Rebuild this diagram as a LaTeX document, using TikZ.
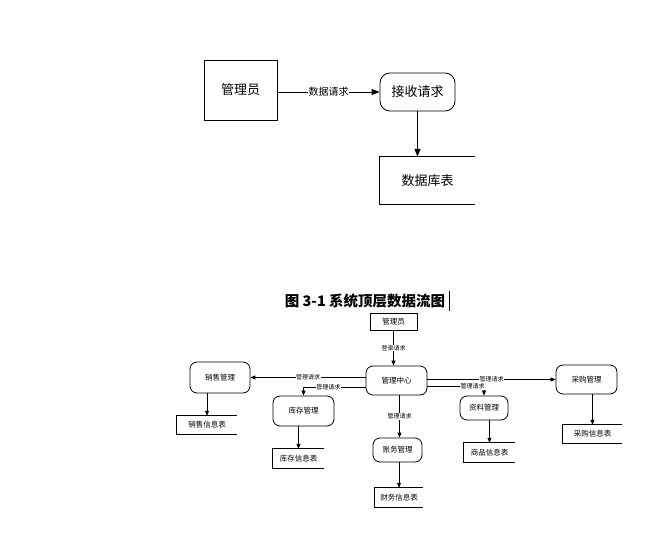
\documentclass[tikz,border=0pt]{standalone}
\usepackage{fontspec}
\newfontfamily\cjk{Noto Sans CJK SC}
\usetikzlibrary{arrows.meta,calc}
\tikzstyle{entity}=[rectangle,draw,line width=0.8pt,inner sep=0pt,font=\cjk]
\tikzstyle{process}=[rectangle,rounded corners=8pt,draw,line width=0.8pt,inner sep=0pt,font=\cjk]
\tikzstyle{store}=[rectangle,inner sep=0pt,font=\cjk]
\tikzstyle{flow}=[draw,line width=0.8pt,-{Triangle[length=8pt,width=6pt]}]
\tikzstyle{smallflow}=[draw,line width=0.7pt,-{Triangle[length=5pt,width=4pt]}]
\tikzstyle{weight}=[fill=white,inner sep=0.5pt,font=\cjk]

\begin{document}
\begin{tikzpicture}[x=1pt,y=-1pt]
    \useasboundingbox (0,0) rectangle (664,551);
    % top level: the administrator asks, the request is taken in
    \node[entity,minimum width=73pt,minimum height=60pt,font=\cjk\fontsize{13}{15}\selectfont] (admin) at (240.5,90) {管理员};
    \node[process,minimum width=75pt,minimum height=38pt,rounded corners=10pt,font=\cjk\fontsize{13}{15}\selectfont] (recv) at (417.5,92) {接收请求};
    \node[store,minimum width=95pt,minimum height=47pt,font=\cjk\fontsize{13}{15}\selectfont] (db) at (427.5,180.5) {数据库表};

    \path[flow] (admin.east |- recv.west) -- node[weight,font=\cjk\fontsize{10}{12}\selectfont] {数据请求} (recv.west);
    \path[flow] (recv.south) -- (recv.south |- db.north);

    % caption
    \node[font=\cjk\bfseries\fontsize{14.5}{16}\selectfont] (caption) at (365,301) {图 3-1 系统顶层数据流图};
    \draw[line width=1.2pt] (caption.east) ++(1,-10) -- ++(0,20);

    % second level
    \foreach \pos/\name/\txt/\w/\h in {{(393.5,321.5)/admin2/管理员/47/17}}
        \node[entity,minimum width=\w pt,minimum height=\h pt,font=\cjk\fontsize{7.5}{9}\selectfont] (\name) at \pos {\txt};

    \foreach \pos/\name/\txt/\w/\h in {{(396.5,380.5)/hub/管理中心/61/29}, {(220,377.5)/sales/销售管理/60/31},
        {(303.5,411)/stock/库存管理/61/30}, {(397.5,450)/acct/账务管理/49/24},
        {(484,408)/info/资料管理/48/24}, {(586.5,379.5)/buy/采购管理/61/29}}
        \node[process,minimum width=\w pt,minimum height=\h pt,rounded corners=7pt,font=\cjk\fontsize{7.5}{9}\selectfont] (\name) at \pos {\txt};

    \foreach \pos/\name/\txt/\w/\h in {{(207,425)/salest/销售信息表/60/18}, {(298.5,458.5)/stockt/库存信息表/51/19},
        {(399,497.5)/acctt/财务信息表/48/19}, {(489.5,452.5)/goodst/商品信息表/51/19},
        {(592.5,434)/buyt/采购信息表/59/18}}
        \node[store,minimum width=\w pt,minimum height=\h pt,font=\cjk\fontsize{7.5}{9}\selectfont] (\name) at \pos {\txt};

    % open data stores
    \foreach \name in {db,salest,stockt,acctt,goodst,buyt}
        \draw[line width=0.8pt] (\name.north east) -- (\name.north west) -- (\name.south west) -- (\name.south east);

    % requests from the centre
    \tikzset{weight/.append style={font=\cjk\fontsize{6}{7}\selectfont}}
    \path[smallflow] (admin2.south) -- node[weight] {登录请求} (admin2.south |- hub.north);
    \path[smallflow] (hub.west |- sales.east) -- node[weight] {管理请求} (sales.east);
    \path[smallflow] ([yshift=-7pt]hub.west) -| node[weight,pos=0.3] {管理请求} (stock.north);
    \path[smallflow] ([xshift=3pt]hub.south) -- node[weight] {管理请求} ([xshift=3pt]hub.south |- acct.north);
    \path[smallflow] (hub.east |- buy.west) -- node[weight] {管理请求} (buy.west);
    \path[smallflow] ([yshift=-6pt]hub.east) -| node[weight,pos=0.4] {管理请求} (info.north);

    % into the stores
    \foreach \source/\dest in {sales/salest, stock/stockt, acct/acctt, info/goodst, buy/buyt}
        \path[smallflow] (\source.south -| \dest.north) -- (\dest.north);
\end{tikzpicture}
\end{document}
